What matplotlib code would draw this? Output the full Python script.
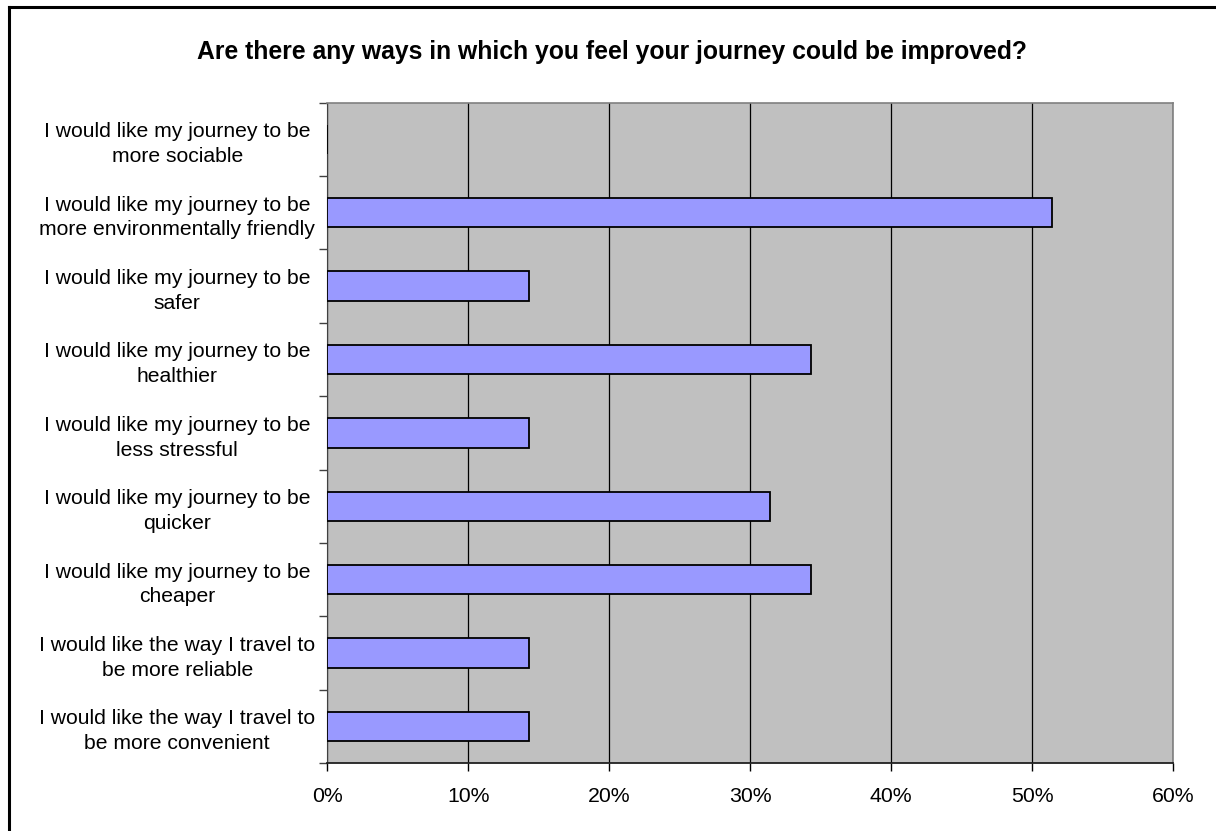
import matplotlib
matplotlib.use("Agg")
import matplotlib.pyplot as plt
from matplotlib.lines import Line2D
from matplotlib.ticker import PercentFormatter, FixedLocator

plt.rcParams['font.family'] = ['Liberation Sans', 'DejaVu Sans']

title = "Are there any ways in which you feel your journey could be improved?"

categories = [
    "I would like the way I travel to\nbe more convenient",
    "I would like the way I travel to\nbe more reliable",
    "I would like my journey to be\ncheaper",
    "I would like my journey to be\nquicker",
    "I would like my journey to be\nless stressful",
    "I would like my journey to be\nhealthier",
    "I would like my journey to be\nsafer",
    "I would like my journey to be\nmore environmentally friendly",
    "I would like my journey to be\nmore sociable",
]
shares = [14.3, 14.3, 34.3, 31.4, 14.3, 34.3, 14.3, 51.4, 0.0]
x_ticks = [0, 10, 20, 30, 40, 50, 60]

W, H, DPI = 1216, 831, 100
fig = plt.figure(figsize=(W / DPI, H / DPI), dpi=DPI)
fig.patch.set_facecolor("white")

# chart-area frame (left and top edges)
fig.add_artist(Line2D([9 / W, 9 / W], [0, 1 - 6.5 / H], transform=fig.transFigure,
                      color="black", lw=2.2))
fig.add_artist(Line2D([9 / W, 1], [1 - 6.5 / H, 1 - 6.5 / H], transform=fig.transFigure,
                      color="black", lw=2.2))

left, right, top, bottom = 327.3, 1173, 102.7, 763
ax = fig.add_axes([left / W, 1 - bottom / H, (right - left) / W, (bottom - top) / H])
ax.set_facecolor("#c0c0c0")

y = list(range(len(categories)))
ax.barh(y, shares, height=0.4, color="#9999ff", edgecolor="black", linewidth=1.3, zorder=3)

ax.set_xlim(0, 60)
ax.set_ylim(-0.5, len(categories) - 0.5)
ax.xaxis.set_major_locator(FixedLocator(x_ticks))
ax.xaxis.set_major_formatter(PercentFormatter(decimals=0))
ax.grid(axis="x", color="black", linewidth=0.9, zorder=1)

ax.set_yticks(y)
ax.set_yticklabels(categories, ha="center", multialignment="center", fontsize=15.2,
                   linespacing=1.38)
ax.tick_params(axis="y", length=0, pad=108)
ax.yaxis.set_minor_locator(FixedLocator([i - 0.5 for i in range(len(categories) + 1)]))
ax.tick_params(axis="y", which="minor", length=6, width=1, color="#404040", direction="out")
ax.tick_params(axis="x", length=6, width=1, direction="out", labelsize=15.3, pad=11)

for side in ("top", "right"):
    ax.spines[side].set_color("#808080")
    ax.spines[side].set_linewidth(1.2)
ax.spines["left"].set_color("#404040")
ax.spines["bottom"].set_color("#202020")
ax.spines["bottom"].set_linewidth(1.3)

fig.text(612 / W, 1 - 52 / H, title, ha="center", va="center",
         fontsize=17.8, fontweight="bold")

fig.savefig("out.png", dpi=DPI)
